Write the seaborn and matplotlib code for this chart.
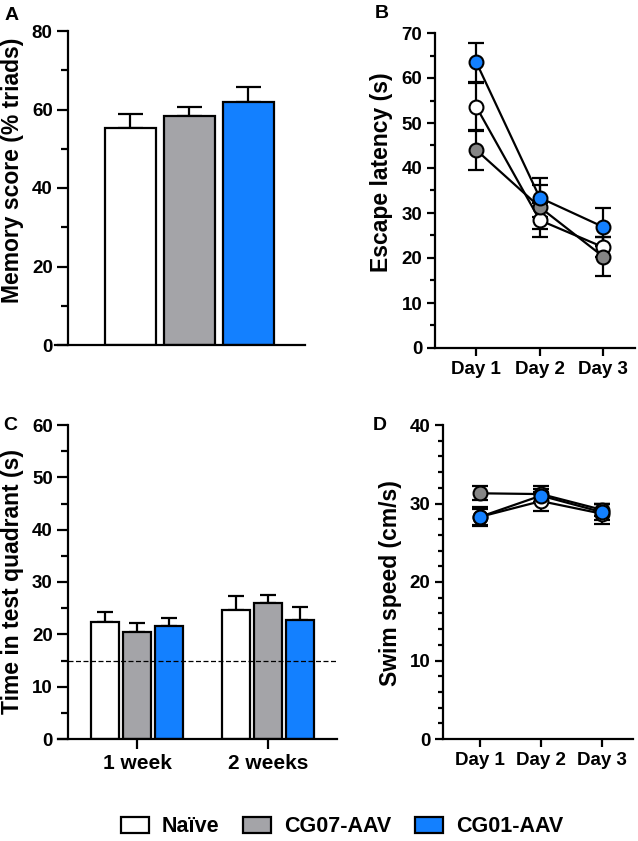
import numpy as np
import pandas as pd
import seaborn as sns
import matplotlib.pyplot as plt
from matplotlib.patches import Patch
from matplotlib.ticker import MultipleLocator

# Data (mean, SEM)
groups = ['Naïve', 'CG07-AAV', 'CG01-AAV']
colors_bar = ['#ffffff', '#a4a4a8', '#1380ff']
colors_pt = ['#ffffff', '#858585', '#1380ff']

memory_mean = [55.4, 58.4, 61.8]
memory_sem = [3.5, 2.2, 4.0]

days = ['Day 1', 'Day 2', 'Day 3']
latency_naive = [53.6, 28.4, 22.4]
latency_naive_sem = [5.3, 3.8, 2.2]
latency_cg07 = [44.0, 31.3, 20.3]
latency_cg07_sem = [4.4, 4.9, 4.3]
latency_cg01 = [63.5, 33.4, 26.9]
latency_cg01_sem = [4.3, 4.4, 4.2]

weeks = ['1 week', '2 weeks']
quadrant_naive = [22.4, 24.7]
quadrant_naive_sem = [1.9, 2.7]
quadrant_cg07 = [20.5, 25.9]
quadrant_cg07_sem = [1.6, 1.7]
quadrant_cg01 = [21.6, 22.8]
quadrant_cg01_sem = [1.5, 2.5]
chance_level = 15

speed_naive = [28.3, 30.3, 28.7]
speed_naive_sem = [1.2, 1.2, 1.3]
speed_cg07 = [31.3, 31.2, 29.2]
speed_cg07_sem = [0.9, 1.0, 0.8]
speed_cg01 = [28.3, 31.0, 28.9]
speed_cg01_sem = [1.0, 0.9, 1.0]

sns.set_style('ticks')
plt.rcParams['font.family'] = ['Liberation Sans', 'DejaVu Sans']
plt.rcParams['font.weight'] = 'bold'
plt.rcParams['axes.labelweight'] = 'bold'
plt.rcParams['axes.linewidth'] = 1.6
for key in ['text.color', 'axes.labelcolor', 'xtick.color', 'ytick.color', 'axes.edgecolor']:
    plt.rcParams[key] = 'black'

W, H = 638, 841
fig = plt.figure(figsize=(W / 100, H / 100), dpi=100)


def px_axes(x0, x1, y0, y1):
    # y0 top, y1 bottom in pixels
    return fig.add_axes([x0 / W, 1 - y1 / H, (x1 - x0) / W, (y1 - y0) / H])


def style_axes(ax, major, minor, ymax, ticklen=7, xticklen=6):
    sns.despine(ax=ax)
    ax.set_ylim(0, ymax)
    ax.yaxis.set_major_locator(MultipleLocator(major))
    ax.yaxis.set_minor_locator(MultipleLocator(minor))
    ax.tick_params(axis='y', which='major', length=ticklen, width=1.6, labelsize=13.5, pad=3)
    ax.tick_params(axis='y', which='minor', length=ticklen * 0.6, width=1.6)
    ax.tick_params(axis='x', which='major', length=xticklen, width=1.6, labelsize=13.5)
    ax.tick_params(axis='x', which='minor', bottom=False)
    for lab in ax.get_xticklabels() + ax.get_yticklabels():
        lab.set_fontweight('bold')


# ---- A: memory score bars
axA = px_axes(55, 305, 31, 345)
dfA = pd.DataFrame({'group': groups, 'score': memory_mean})
xa = np.arange(len(groups))
axA.errorbar(xa, memory_mean, yerr=[np.zeros(3), memory_sem], fmt='none', ecolor='k',
             elinewidth=1.6, capsize=9, capthick=1.6, zorder=1)
sns.barplot(data=dfA, x='group', y='score', hue='group', palette=colors_bar, saturation=1,
            width=0.86, edgecolor='k', linewidth=1.6, errorbar=None, legend=False, ax=axA, zorder=2)
axA.set_xlim(-1.28, 2.96)
axA.spines['left'].set_position(('axes', 0.052))
style_axes(axA, 20, 10, 80, ticklen=8)
axA.set_xticks([])
axA.set_xlabel('')
axA.set_ylabel('Memory score (% triads)', fontsize=16.5)
axA.yaxis.set_label_coords(-0.125, 0.557)

# ---- B: escape latency
axB = px_axes(435, 635, 33, 348)
latency = [latency_naive, latency_cg07, latency_cg01]
latency_sem = [latency_naive_sem, latency_cg07_sem, latency_cg01_sem]
xd = np.arange(len(days))
for i, g in enumerate(groups):
    axB.errorbar(xd, latency[i], yerr=latency_sem[i], fmt='none', ecolor='k',
                 elinewidth=1.6, capsize=5.5, capthick=1.6, zorder=1.5 + i * 0.1)
    sns.lineplot(x=days, y=latency[i], color='k', linewidth=1.6, marker='o', markersize=10,
                 markerfacecolor=colors_pt[i], markeredgecolor='k', markeredgewidth=1.5,
                 ax=axB, zorder=2 + i * 0.1)
axB.set_xlim(-0.65, 2.5)
style_axes(axB, 10, 5, 70, ticklen=6)
axB.set_ylabel('Escape latency (s)', fontsize=16.5)
axB.yaxis.set_label_coords(-0.21, 0.559)

# ---- C: time in test quadrant
axC = px_axes(58, 337, 425, 739)
dfC = pd.DataFrame({
    'week': weeks * 3,
    'group': np.repeat(groups, len(weeks)),
    'time': quadrant_naive + quadrant_cg07 + quadrant_cg01,
})
quad_sem = [quadrant_naive_sem, quadrant_cg07_sem, quadrant_cg01_sem]
sns.barplot(data=dfC, x='week', y='time', hue='group', palette=colors_bar, saturation=1,
            width=0.73, gap=0.12, edgecolor='k', linewidth=1.6, errorbar=None, legend=False,
            ax=axC, zorder=2)
bar_conts = list(axC.containers)
for i, cont in enumerate(bar_conts):
    xs = [p.get_x() + p.get_width() / 2 for p in cont.patches]
    tops = [p.get_height() for p in cont.patches]
    axC.errorbar(xs, tops, yerr=[np.zeros(len(xs)), quad_sem[i]], fmt='none', ecolor='k',
                 elinewidth=1.6, capsize=5.5, capthick=1.6, zorder=1)
axC.set_xlim(-0.603, 1.527)
axC.spines['left'].set_position(('axes', 0.036))
axC.axhline(chance_level, xmin=0.036, xmax=1, color='k', linestyle=(0, (4, 2)), linewidth=0.9, zorder=3)
style_axes(axC, 10, 5, 60, ticklen=8, xticklen=7)
axC.tick_params(axis='x', labelsize=15)
axC.set_xlabel('')
axC.set_ylabel('Time in test quadrant (s)', fontsize=16.5)
axC.yaxis.set_label_coords(-0.122, 0.503)

# ---- D: swim speed
axD = px_axes(443, 633, 425, 739)
speed = [speed_naive, speed_cg07, speed_cg01]
speed_sem = [speed_naive_sem, speed_cg07_sem, speed_cg01_sem]
for i, g in enumerate(groups):
    axD.errorbar(xd, speed[i], yerr=speed_sem[i], fmt='none', ecolor='k',
                 elinewidth=1.6, capsize=5.5, capthick=1.6, zorder=1.5 + i * 0.1)
    sns.lineplot(x=days, y=speed[i], color='k', linewidth=1.6, marker='o', markersize=10,
                 markerfacecolor=colors_pt[i], markeredgecolor='k', markeredgewidth=1.5,
                 ax=axD, zorder=2 + i * 0.1)
axD.set_xlim(-0.607, 2.51)
style_axes(axD, 10, 2, 40, ticklen=6)
axD.set_ylabel('Swim speed (cm/s)', fontsize=16.5)
axD.yaxis.set_label_coords(-0.215, 0.498)

# panel letters
for lbl, (px, py) in zip('ABCD', [(12, 15), (382, 13), (10, 426), (380, 426)]):
    fig.text(px / W, 1 - py / H, lbl, fontsize=14, fontweight='bold', ha='center', va='center')

# legend
handles = [Patch(facecolor=c, edgecolor='k', linewidth=1.6) for c in colors_bar]
fig.legend(handles, groups, loc='center', bbox_to_anchor=(0.536, 0.017), ncol=3, frameon=False,
           prop={'size': 15.5, 'weight': 'bold'}, handlelength=1.3, handleheight=0.75,
           handletextpad=0.6, columnspacing=1.1)

fig.savefig('out.png', dpi=100)
